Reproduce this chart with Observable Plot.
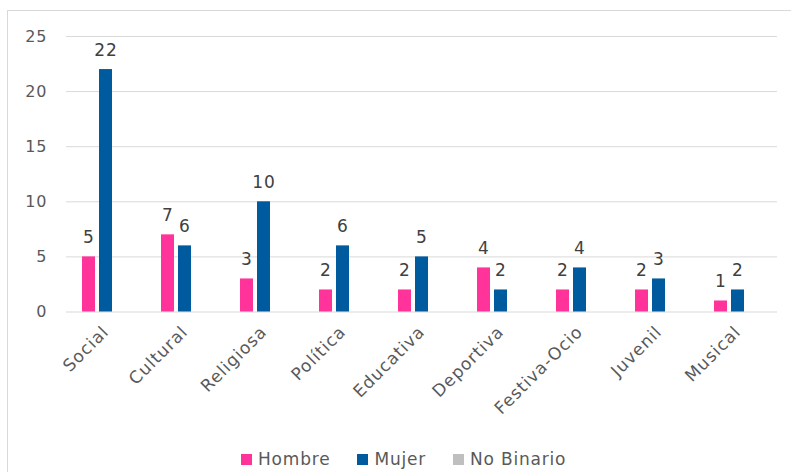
<!DOCTYPE html>
<html>
<head>
<meta charset="utf-8">
<script src="https://cdn.jsdelivr.net/npm/d3@7"></script>
<script src="https://cdn.jsdelivr.net/npm/@observablehq/plot@0.6"></script>
<style>
  html, body { margin: 0; padding: 0; background: #fff; overflow: hidden; width: 791px; height: 472px; }
  #frame { position: absolute; left: 7px; top: 10px; width: 820px; height: 500px; border: 1px solid #d9d9d9; box-sizing: border-box; }
  #chart { position: absolute; left: 0; top: 0; }
  #legend { position: absolute; top: 449px; left: 241px; display: flex; gap: 27px;
            font-family: "DejaVu Sans", sans-serif; font-size: 17px; letter-spacing: 0.8px; color: #595959; }
  .item { display: flex; align-items: center; }
  .sw { width: 11px; height: 11px; margin-right: 6px; display: inline-block; }
</style>
</head>
<body>
<div id="frame"></div>
<div id="chart"></div>
<div id="legend"></div>
<script>
const categories = ["Social", "Cultural", "Religiosa", "Política", "Educativa", "Deportiva", "Festiva-Ocio", "Juvenil", "Musical"];
const series = ["Hombre", "Mujer", "No Binario"];
const hombre = [5, 7, 3, 2, 2, 4, 2, 2, 1];
const mujer = [22, 6, 10, 6, 5, 2, 4, 3, 2];
const noBinario = [0, 0, 0, 0, 0, 0, 0, 0, 0];
const colors = ["#FF3399", "#005A9E", "#BFBFBF"];
const yTicks = [0, 5, 10, 15, 20, 25];

const seriesValues = [hombre, mujer, noBinario];
const data = [];
categories.forEach((c, i) => {
  series.forEach((s, j) => data.push({cat: c, series: s, value: seriesValues[j][i]}));
});

const font = "DejaVu Sans, sans-serif";
const chart = Plot.plot({
  width: 791,
  height: 440,
  marginLeft: 62,
  marginRight: 10,
  marginTop: 36,
  marginBottom: 128.5,
  style: {fontFamily: font, fontSize: "16px", color: "#595959", background: "transparent", letterSpacing: "1px"},
  fx: {domain: categories, padding: 0, label: null},
  x: {domain: series, paddingInner: 0.26, paddingOuter: 0.91, axis: null},
  y: {domain: [0, 25], axis: null},
  color: {domain: series, range: colors},
  marks: [
    Plot.gridY(yTicks, {stroke: "#d9d9d9", strokeOpacity: 1, strokeWidth: 1}),
    Plot.axisY(yTicks, {tickSize: 0, tickPadding: 19, label: null, fontSize: 16, fill: "#595959"}),
    Plot.barY(data, {fx: "cat", x: "series", y: "value", fill: "series"}),
    Plot.text(data.filter(d => d.value > 0), {fx: "cat", x: "series", y: "value", text: d => String(d.value), dy: -19, fill: "#404040", fontSize: 17}),
    Plot.axisFx({anchor: "bottom", tickSize: 0, tickPadding: 17, tickRotate: -45, label: null, fontSize: 17, fill: "#595959"})
  ]
});
document.getElementById("chart").appendChild(chart);

const legend = document.getElementById("legend");
series.forEach((s, i) => {
  const item = document.createElement("div");
  item.className = "item";
  item.innerHTML = `<span class="sw" style="background:${colors[i]}"></span><span>${s}</span>`;
  legend.appendChild(item);
});
</script>
</body>
</html>
